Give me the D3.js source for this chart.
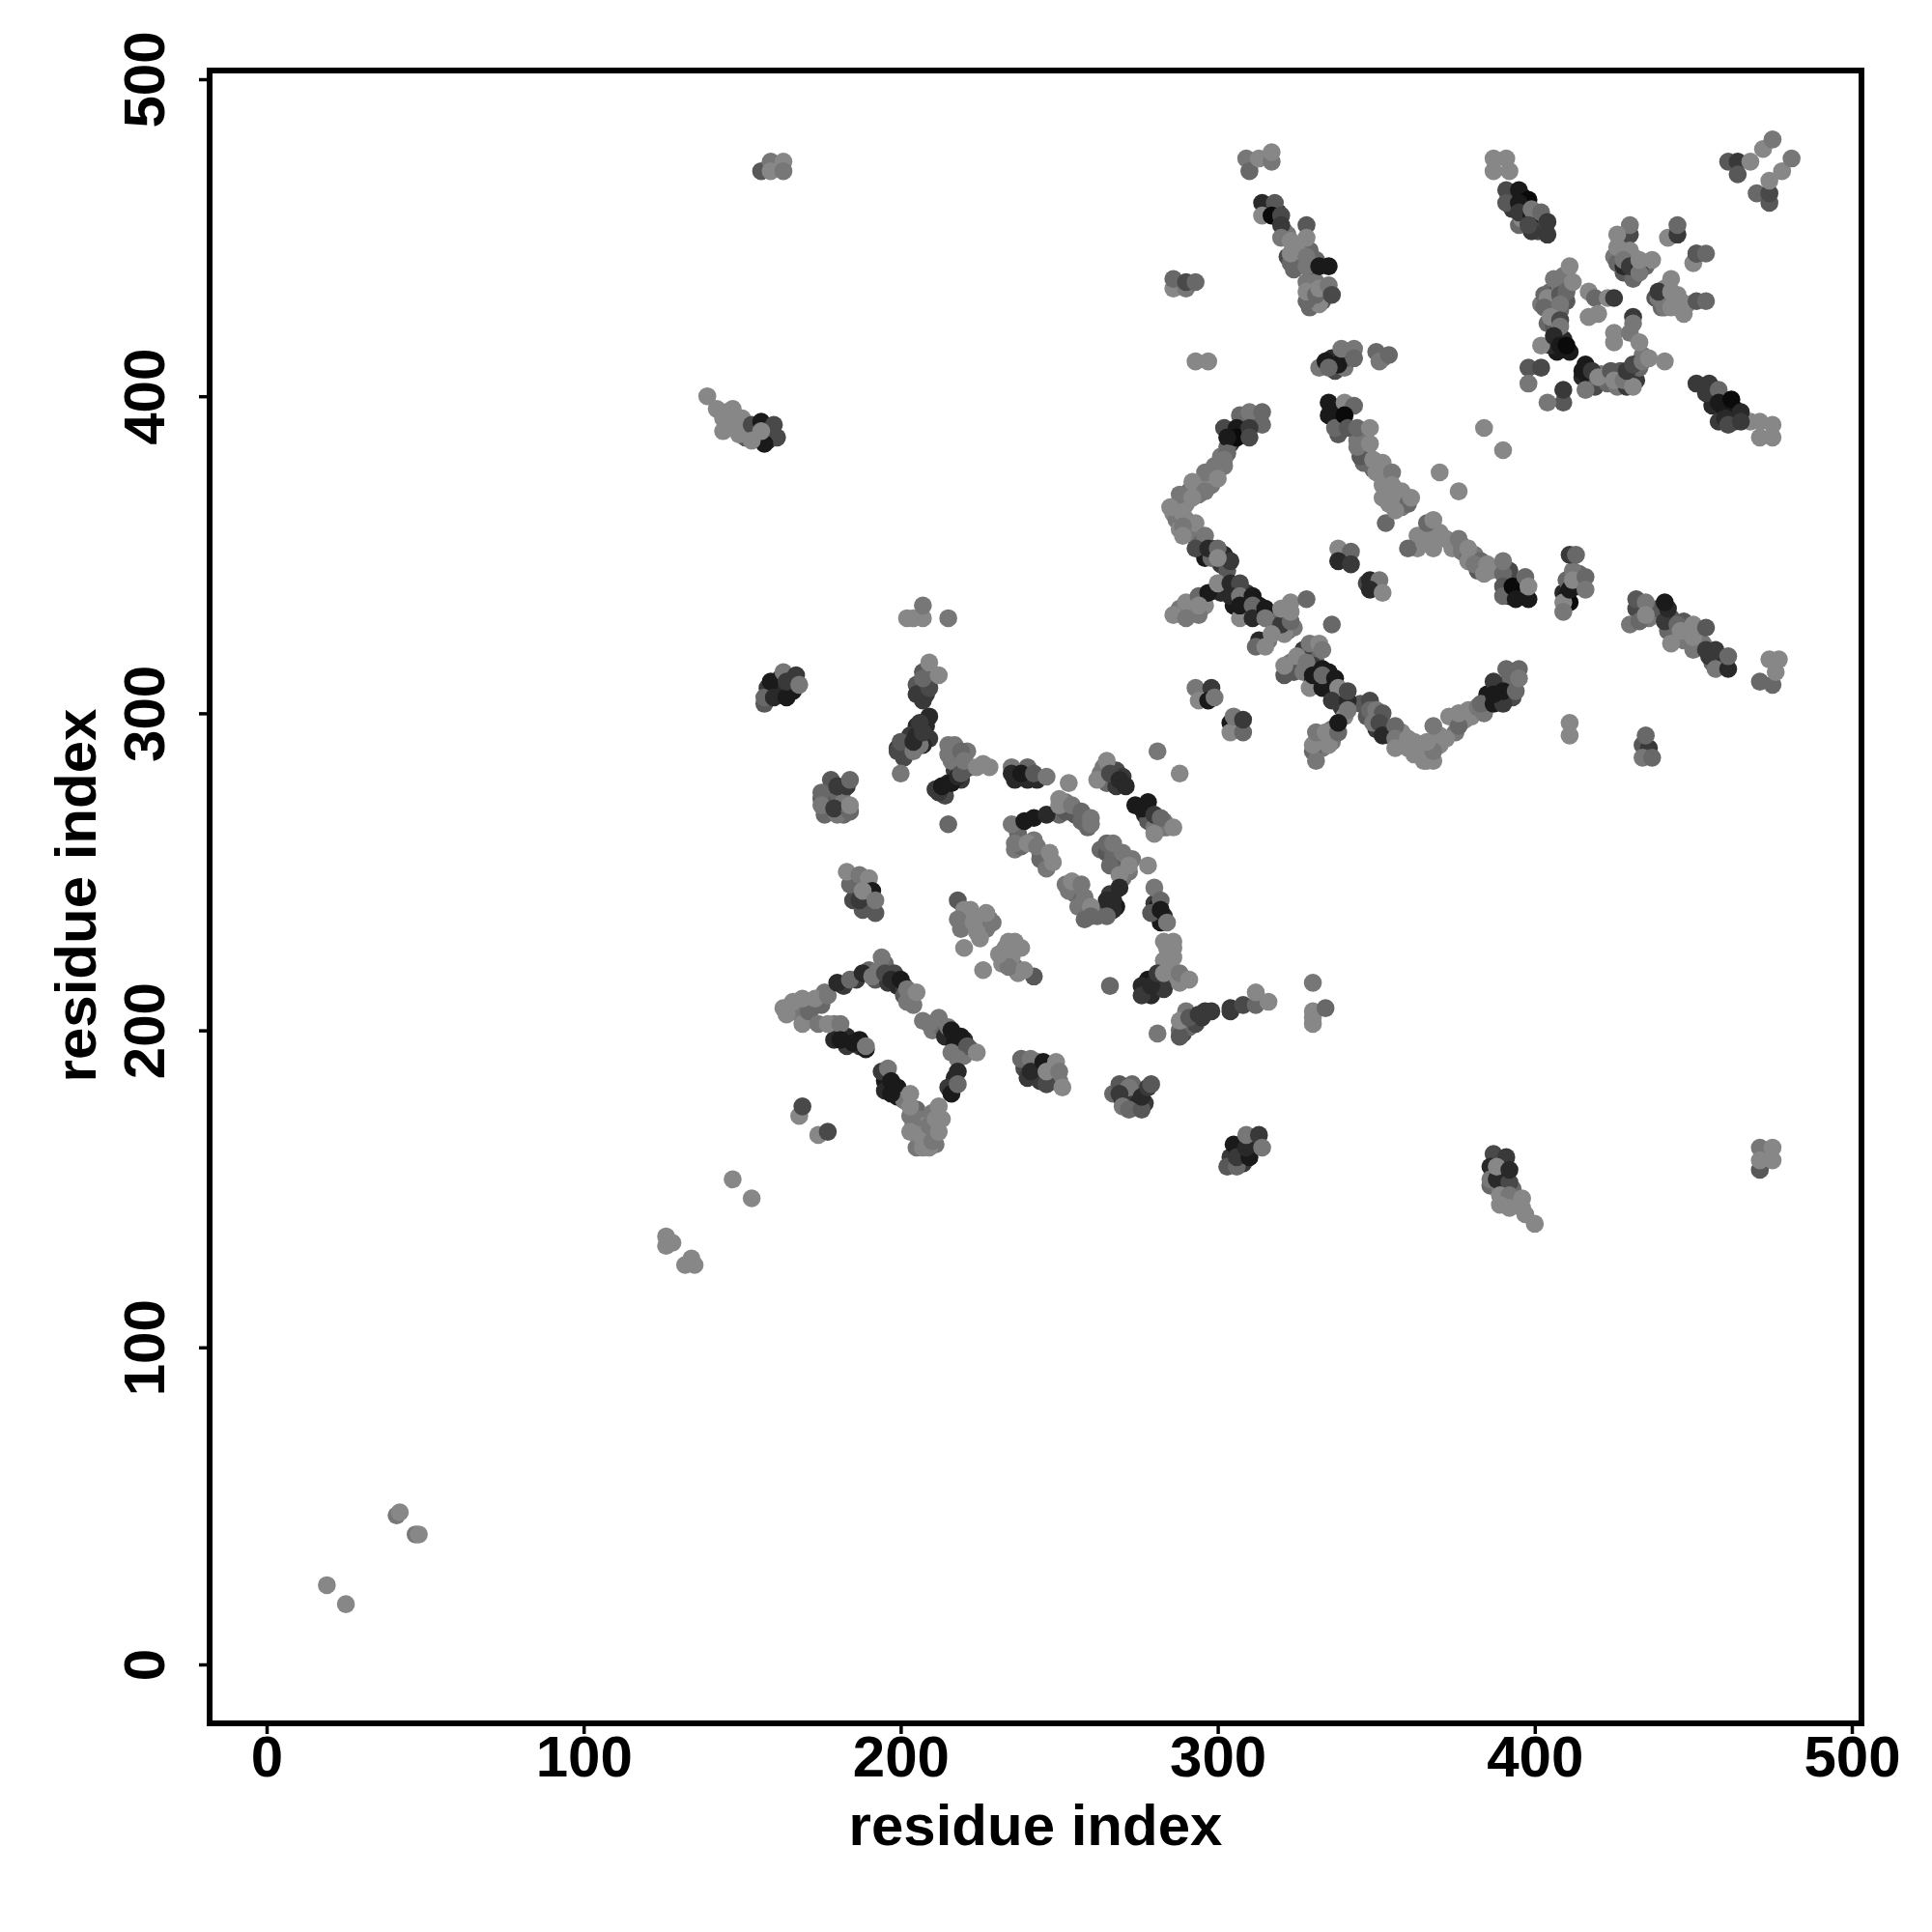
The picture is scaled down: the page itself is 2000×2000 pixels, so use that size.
<!DOCTYPE html>
<html><head><meta charset="utf-8">
<script src="https://cdn.jsdelivr.net/npm/d3@7"></script>
<style>html,body{margin:0;background:#fff}svg{display:block}text{font-family:"Liberation Sans",Arial,sans-serif;font-weight:700;fill:#000}</style>
</head><body><svg id="c" width="2000" height="2000"></svg>
<script>
// each contact: [residue i, residue j, shade level 0 (darkest) .. 8 (lightest)]
// under-layer contacts, drawn first
const underLoop=[[166,206,7],[168,207,7],[172,207,7],[175,208,6],[164,205,8],[170,204,7],[176,212,7],[182,214,3],[186,216,3],[190,219,6],[192,216,5],[195,221,6],[196,215,3],[198,218,4],[199,214,2],[201,214,3],[203,211,7],[204,208,7],[201,211,5],[179,202,7],[183,198,2],[187,195,3],[183,195,3],[179,197,2],[187,197,1],[207,203,7],[210,200,7],[213,201,6],[214,198,2],[217,196,1],[220,197,2],[222,194,6],[216,193,7],[220,192,7],[217,185,2],[215,182,3],[195,184,1],[199,182,1],[195,181,2],[199,179,1],[201,178,7],[205,175,6],[206,172,7],[208,170,8],[206,165,7],[208,166,7],[204,170,7],[213,172,8],[210,174,7],[205,163,7],[211,164,7]];
const underStem=[[205,309,5],[208,310,5],[209,313,6],[207,313,5],[205,306,3],[208,306,3],[209,299,2],[205,296,2],[208,296,2],[209,292,3],[203,293,3],[207,290,2],[205,293,2],[202,289,5],[199,289,3],[206,290,7],[201,286,4],[215,278,2],[214,274,4],[212,275,3],[217,282,3],[218,283,4],[220,282,5],[218,287,7],[221,288,7],[222,283,7],[215,287,7],[216,285,7],[219,279,3],[221,283,4]];
const underBlobs=[[178,274,2],[182,276,4],[176,268,6],[178,272,6],[182,272,7],[182,268,6],[183,277,3],[175,273,5],[178,279,5],[186,247,7],[186,243,2],[189,240,3],[185,241,4],[189,246,7],[191,240,5],[188,238,5],[221,235,8],[222,238,8],[219,232,7],[225,234,8],[226,232,8],[228,235,6],[227,232,7],[225,229,8],[232,224,7],[233,226,8],[236,228,8],[235,224,8],[232,221,8],[236,220,6],[237,218,8],[235,223,8],[239,188,4],[243,189,2],[243,186,1],[240,185,3],[244,184,3],[248,186,7],[248,184,5],[250,184,7],[243,190,6],[247,189,8],[271,179,5],[274,179,7],[274,176,5],[267,180,6],[273,183,6],[270,178,2],[272,177,3],[275,177,2],[277,177,3]];
const underUpper=[[236,279,2],[240,279,2],[243,279,2],[240,283,6],[263,281,7],[264,283,7],[265,278,6],[268,282,4],[268,277,3],[270,280,3],[277,268,2],[278,266,5],[280,264,7],[283,264,6],[283,266,7],[278,272,1],[284,264,7],[274,271,1],[237,262,6],[236,257,7],[238,258,6],[242,260,7],[244,256,7],[246,254,7],[244,254,6],[246,251,7],[250,268,6],[252,272,7],[255,268,5],[257,266,6],[259,264,6],[260,265,7],[250,273,8],[252,269,5],[263,257,6],[265,256,5],[267,255,6],[268,253,6],[270,253,5],[272,250,7],[269,252,5],[273,254,7],[266,252,6],[270,248,7],[266,243,3],[268,239,1],[264,238,3],[265,241,2],[252,246,7],[255,243,6],[253,244,7],[257,241,6],[259,238,7],[262,236,6],[256,239,7],[258,235,6],[280,240,3],[281,239,1],[283,236,2],[282,234,1],[279,237,5]];
const underCross=[[286,226,8],[286,223,8],[283,222,8],[283,228,8],[286,228,8],[285,220,8],[285,217,8],[277,212,2],[278,216,1],[280,213,1],[276,214,2],[282,215,3],[279,211,2],[283,213,3],[288,215,8],[289,199,4],[291,201,6],[290,206,7],[293,202,4],[295,204,3],[296,206,3],[288,200,6]];
const underMid=[[292,332,7],[288,333,7],[296,334,8],[301,338,2],[305,339,1],[305,334,1],[309,338,3],[309,335,2],[309,332,1],[313,334,1],[313,331,3],[316,331,2],[318,327,2],[320,331,7],[322,326,4],[324,327,7],[321,325,8],[316,323,7],[313,323,2],[323,335,8],[318,330,6],[329,318,7],[331,319,6],[331,316,6],[327,317,5],[330,315,3],[326,315,6],[323,316,7],[324,313,5],[327,313,7],[330,310,1],[332,310,2],[335,309,1],[335,313,1],[337,306,2],[339,302,3],[338,305,4],[339,307,7],[340,299,8],[333,292,8],[336,291,7],[336,295,7],[333,289,7],[330,288,6]];
const underValley=[[353,296,7],[358,294,8],[362,291,8],[362,287,8],[364,288,8],[368,285,8],[370,290,8],[370,293,8],[375,294,7],[378,298,8],[380,299,8],[384,300,7],[385,304,3],[347,299,5],[345,303,5],[350,295,3],[354,293,7],[358,290,8],[385,306,1],[388,308,1],[389,304,1],[392,308,3],[392,311,6],[393,305,4],[389,305,1]];
const underArc=[[304,385,3],[307,389,1],[308,392,2],[311,392,4],[303,384,6],[302,378,7],[299,378,7],[301,381,7],[298,375,7],[298,372,7],[295,372,8],[294,369,7],[291,370,6],[288,366,7],[290,366,8],[286,363,8],[287,361,7],[290,361,7],[288,358,8],[291,357,7],[295,354,6],[298,352,3],[302,350,2],[296,349,1],[301,347,3],[298,349,6],[303,345,5]];
const underDescent=[[337,396,1],[339,391,2],[338,388,5],[346,387,7],[344,386,7],[346,383,6],[347,382,7],[346,379,6],[349,377,6],[352,375,8],[353,374,8],[352,372,8],[354,369,8],[357,367,8],[354,366,8],[358,370,8],[358,365,7],[356,368,8],[363,356,8],[366,356,8],[369,355,8],[370,357,8],[363,352,8],[374,352,8],[377,351,7],[379,349,6],[381,350,7],[382,345,5],[379,348,8],[383,348,6],[386,345,8],[377,353,7]];
const underHigh=[[316,459,1],[319,458,2],[321,452,5],[322,451,7],[324,447,6],[326,443,4],[326,447,8],[329,446,6],[331,443,6],[324,440,6],[322,444,4],[325,441,6],[330,439,5],[328,436,7],[331,436,7],[333,430,5],[329,428,6],[332,429,8],[393,462,1],[396,463,0],[397,459,1],[393,459,3],[397,455,3],[400,456,0],[400,454,2],[402,455,3],[395,454,6],[401,452,4],[399,452,3],[396,456,8],[336,412,2],[337,408,4],[340,409,7],[341,414,7],[340,412,5],[352,412,7]];
const underXShape=[[428,449,7],[425,444,7],[426,442,6],[428,439,5],[431,437,6],[428,441,2],[431,444,8],[435,441,6],[438,431,5],[440,428,6],[441,434,8],[445,428,8],[445,432,8],[440,431,6],[441,428,7],[443,431,7],[448,429,8],[405,433,6],[406,430,5],[407,433,4],[405,428,4],[408,434,7],[410,430,5],[402,429,7],[403,432,6],[404,423,6],[407,419,3],[407,414,1],[409,418,2],[411,414,1],[405,416,2],[406,422,5],[408,427,6],[406,437,7],[409,438,7],[415,406,2],[417,406,1],[419,403,4],[421,407,7],[423,404,6],[426,403,7],[429,406,4],[427,408,5],[431,407,2],[432,405,3],[433,409,6],[429,403,3],[427,406,6],[434,413,7],[456,402,5],[457,400,3],[456,397,2],[460,395,1],[460,398,1],[463,396,1],[463,392,3],[458,392,3],[460,393,2],[468,392,8]];
const underRight=[[432,333,4],[436,330,7],[439,333,5],[443,330,5],[445,325,7],[447,323,7],[447,329,5],[442,326,6],[453,322,7],[448,326,8],[456,316,6],[459,315,1],[458,318,2],[455,318,3],[392,337,1],[396,337,1],[393,342,4],[395,339,7],[392,345,4],[409,338,2],[410,342,6],[413,340,2],[414,344,6],[410,337,1],[412,345,7],[340,349,2],[349,340,3],[350,340,2]];
const underLow=[[388,159,3],[390,155,1],[387,155,1],[390,151,2],[390,158,2],[386,151,6],[389,150,7],[391,150,5],[393,150,6],[394,145,8],[391,146,8],[396,144,8],[150,390,8],[146,391,7],[151,387,5],[155,387,2],[159,389,2],[158,386,2],[150,393,8],[145,395,8],[162,307,2],[162,311,3],[166,307,1],[158,308,3],[165,309,3],[307,162,1],[308,158,3],[304,160,3],[312,165,3]];

const nearDiagonal=[[19,25,8],[25,19,8],[41,47,7],[42,48,8],[47,41,7],[48,41,8],[147,153,8],[153,147,8],[126,135,8],[126,132,8],[128,133,8],[134,128,8],[132,126,8],[135,126,8]];
const topLeftA=[[156,471,5],[159,474,7],[163,474,8],[159,471,8],[163,471,7]];
const topLeftB=[[139,400,8],[142,396,8],[147,396,8],[144,393,8],[144,389,8],[148,392,8],[149,388,8],[153,391,4],[156,392,1],[160,391,4],[161,387,4],[157,385,1],[153,386,8],[156,389,8]];
const band300A=[[157,303,5],[157,305,6],[159,310,1],[160,305,2],[163,313,7],[164,305,1],[164,310,3],[167,312,3],[168,309,7]];
const band330=[[202,330,8],[204,330,8],[207,330,8],[207,334,7],[215,330,7]];
const stem=[[207,304,3],[207,307,3],[209,308,4],[207,311,6],[212,312,8],[209,316,8],[199,288,4],[200,291,5],[204,288,7],[204,291,2],[207,294,3],[206,297,3],[200,281,7],[215,265,6]];
const arm280=[[211,276,3],[213,277,1],[216,278,1],[218,280,2],[219,281,5],[215,290,7],[217,290,7],[219,288,6],[220,285,7],[224,283,8],[226,284,8],[228,283,8]];
const blob275=[[175,275,6],[175,271,7],[180,268,7],[179,270,3],[180,277,3],[184,269,6],[184,279,6],[184,271,8]];
const blob245=[[184,246,6],[183,250,8],[187,249,7],[190,248,8],[187,241,3],[191,244,1],[188,244,8],[192,237,5],[192,241,7]];
const diag230=[[218,241,5],[220,238,8],[218,235,7],[229,234,7],[227,237,8],[223,234,8],[224,231,8],[220,226,8],[226,219,8],[234,220,7],[231,224,8],[234,228,8],[238,226,8],[242,217,5],[239,219,8]];
const loopTop=[[163,207,8],[166,209,8],[169,202,8],[171,206,6],[169,210,8],[173,210,8],[177,211,7],[180,215,2],[184,216,6],[188,218,2],[191,217,7],[194,223,7],[193,219,7],[195,218,4],[197,216,2],[200,216,1],[202,209,7],[202,213,7],[205,212,8]];
const loopBottom=[[174,202,7],[177,202,8],[181,202,7],[181,197,1],[185,196,1],[189,194,1],[189,195,7]];
const loopRight=[[209,202,7],[212,204,7],[215,201,7],[216,200,1],[219,198,1],[221,195,5],[218,191,7],[224,193,8],[218,187,2],[216,180,1],[218,183,6]];
const loopFoot=[[194,187,3],[196,188,7],[197,184,1],[197,180,1],[203,173,7],[203,176,8],[203,180,8],[203,168,8],[206,167,8],[207,163,8],[209,163,8],[210,165,7],[209,170,7],[211,172,8],[212,176,8],[212,168,8]];
const pairs170=[[168,173,8],[169,176,4],[174,167,8],[177,168,4]];
const blob187=[[238,191,6],[241,191,7],[241,187,2],[245,190,1],[246,183,4],[246,187,8],[249,190,8],[250,187,7],[251,182,8]];
const blob180=[[269,183,5],[272,182,7],[269,180,3],[270,176,7],[272,175,6],[276,175,5],[276,179,2],[278,182,3],[279,183,5]];
const upper280=[[235,283,7],[235,281,2],[238,281,1],[242,281,5],[246,280,7],[253,278,8],[262,279,8],[265,285,8],[266,281,4],[269,279,2],[271,277,2],[281,288,7],[288,281,8]];
const upper265=[[276,270,1],[280,268,3],[282,267,6],[280,262,8],[286,264,8],[235,265,7],[239,266,1],[242,267,1],[246,268,2],[250,271,8],[254,271,7],[257,269,6],[260,267,7]];
const upper255=[[236,259,7],[240,259,8],[243,258,7],[247,256,8],[248,253,8],[265,259,6],[267,259,7],[270,256,7],[269,249,8],[272,252,8],[278,252,8],[269,245,2],[267,241,2],[267,238,2],[265,236,6]];
const upper245=[[254,247,8],[257,246,7],[258,242,7],[260,239,8],[260,236,6],[280,245,7],[282,241,6],[282,238,1],[284,234,7]];
const cross220=[[284,226,8],[284,223,8],[276,211,3],[279,214,2],[281,218,3],[283,218,8],[288,218,7],[291,216,8],[266,214,6],[281,199,7],[288,198,5],[288,203,8],[291,204,5],[294,205,3],[298,206,3],[304,206,3],[304,207,3],[308,208,4],[312,208,6],[312,212,8],[316,209,8]];
const right205=[[330,215,7],[330,202,8],[330,204,8],[330,206,8],[334,207,6]];
const low160=[[303,157,5],[306,157,6],[305,164,1],[306,160,3],[310,160,1],[309,163,2],[309,167,7],[313,167,3],[314,163,7]];
const low150=[[387,161,4],[391,160,3],[386,157,2],[386,153,7],[388,153,2],[388,157,8],[392,152,4],[392,156,2],[389,148,8],[392,148,7],[396,147,8],[389,145,8],[392,144,8],[397,142,8],[400,139,8]];
const low160r=[[471,156,5],[471,163,7],[475,163,8],[471,159,8],[475,159,8]];
const mid335=[[286,331,8],[290,335,8],[290,330,7],[294,331,7],[294,337,6],[297,338,1],[294,334,8],[300,341,8],[304,341,2],[307,341,4],[304,337,2],[307,337,7],[311,337,1],[307,330,8],[307,334,1],[311,334,6],[311,330,2],[315,333,1],[315,330,7],[320,328,3],[323,329,6],[320,333,8],[323,332,8],[317,325,8],[312,321,6],[315,321,8],[328,336,6],[336,328,6]];
const mid315=[[327,320,3],[329,322,7],[332,322,8],[333,320,7],[325,318,8],[321,312,5],[321,315,8],[328,316,7],[329,308,8],[330,312,1],[333,314,1],[333,308,1],[333,312,6],[337,311,1],[338,308,8],[336,304,3],[341,304,2],[341,301,7],[341,307,4]];
const mid295=[[331,285,7],[330,290,8],[335,290,8],[331,294,7],[334,294,8],[338,294,6],[338,297,1]];
const valley=[[348,304,4],[348,301,6],[350,301,7],[352,300,5],[349,297,7],[351,297,4],[352,293,2],[356,296,6],[356,292,7],[356,289,8],[360,292,8],[360,289,8],[365,285,8],[366,285,8],[368,288,7],[366,291,8],[372,292,8],[368,296,7],[373,299,8],[376,296,6],[376,300,8],[379,301,8],[382,302,7],[383,303,6]];
const valleyEnd=[[387,303,1],[390,303,3],[387,310,3],[387,306,1],[390,307,1],[394,307,6],[391,314,6],[395,314,6],[395,311,7]];
const small300=[[293,308,7],[294,304,8],[298,308,3],[297,304,1],[299,305,7],[304,297,1],[304,294,8],[305,299,7],[308,294,6],[308,298,3]];
const right295=[[411,297,8],[411,293,8]];
const right340=[[390,344,6],[390,340,5],[390,337,6],[393,340,0],[394,336,1],[398,336,1],[397,343,6],[398,340,8],[411,350,3],[413,350,6],[411,335,0],[409,335,8],[409,332,7],[411,339,1],[412,342,8],[416,343,6],[416,339,7]];
const high475=[[309,475,7],[310,471,6],[313,475,8],[317,474,7],[317,477,8]];
const high455=[[314,461,2],[318,461,5],[314,457,8],[317,457,0],[320,457,4],[320,454,3],[320,450,7],[323,449,8],[328,454,5],[328,450,8],[323,442,6],[323,445,8],[325,446,8],[328,441,7],[328,444,7],[332,441,1],[335,441,1]];
const high432=[[328,430,6],[328,433,8],[331,432,6],[332,434,8],[335,435,7],[336,432,4]];
const high435=[[286,434,8],[286,437,6],[290,434,7],[290,436,4],[293,436,6]];
const high410=[[293,411,8],[297,411,8],[332,409,7],[334,411,1],[338,410,1],[335,409,6],[339,415,7],[343,415,7],[343,412,6],[350,414,6],[351,411,7],[354,413,6]];
const descent=[[335,398,1],[335,394,1],[337,390,6],[340,398,8],[343,397,6],[340,394,0],[341,390,5],[344,390,6],[348,390,8],[345,381,5],[344,384,7],[348,385,8],[349,380,8],[352,379,8],[350,376,8],[355,376,7],[353,360,6],[360,366,6],[355,372,8],[352,368,8],[361,368,8],[356,364,8]];
const far=[[370,376,8],[376,370,8],[384,390,8],[390,383,8]];
const tail=[[360,352,6],[366,360,6],[368,361,8],[365,354,8],[368,352,8],[372,355,8],[376,355,7],[379,352,8],[381,347,7],[384,344,8],[385,347,8],[390,348,7]];
const arc=[[302,390,4],[307,394,6],[310,395,7],[314,395,6],[314,391,6],[306,390,1],[306,387,0],[303,387,1],[310,390,3],[310,387,4],[303,382,6],[302,380,7],[300,376,7],[296,376,7],[300,374,8],[292,373,8],[296,370,7],[288,369,7],[292,368,8],[285,365,8],[289,363,8],[293,360,8],[289,359,7],[289,356,8],[296,356,7],[293,352,4],[297,352,2],[300,352,6],[304,348,3],[300,349,8]];
const pair350=[[338,352,8],[342,351,6],[338,348,2],[342,347,3],[347,341,4],[348,342,2],[351,342,7],[348,339,2],[352,338,8]];
const top470=[[387,475,8],[391,475,8],[387,471,8],[392,471,8],[391,465,4],[395,465,1],[391,461,5],[398,462,0],[395,461,1],[395,458,3],[399,457,1],[399,459,7],[398,454,4],[402,458,6],[404,451,3],[404,455,3]];
const corner=[[461,474,5],[464,474,3],[464,470,5],[468,474,8],[472,478,8],[475,481,7],[470,464,6],[474,461,5],[474,464,4],[474,468,8],[478,471,8],[481,475,7]];
const crossNE=[[430,451,4],[430,454,7],[426,451,8],[426,447,8],[430,446,8],[428,443,7],[430,441,3],[433,440,2],[433,439,7],[433,443,8],[437,443,8],[442,450,8],[445,451,3],[445,454,6],[450,442,8],[451,445,3],[451,445,5],[454,445,6],[439,431,7],[439,433,3],[443,437,8],[443,433,8],[446,430,8],[443,428,8],[447,426,8],[451,430,5],[454,430,6]];
const crossW=[[411,441,8],[404,431,8],[403,428,6],[408,432,5],[410,433,6],[412,436,8],[408,429,7],[405,425,8],[408,424,4],[408,422,7],[402,416,8],[406,419,2],[408,416,1],[410,416,0],[417,433,8],[419,431,6],[423,431,8],[425,431,3],[417,425,8],[420,426,8],[431,425,3],[431,423,7],[425,420,8],[425,417,8],[430,420,7],[433,417,8]];
const crossS=[[398,409,5],[402,409,4],[398,404,7],[409,398,5],[404,398,7],[409,402,3],[416,402,7],[415,408,1],[416,410,1],[418,408,3],[420,406,8],[424,408,5],[425,405,8],[428,405,7],[431,403,8],[429,408,3],[431,410,4],[434,411,7],[436,412,8],[441,411,8]];
const crossSE=[[451,404,3],[455,404,3],[454,401,3],[458,402,6],[458,398,1],[462,399,0],[461,391,4],[465,395,2],[465,392,3],[471,392,8],[475,391,8],[471,387,8],[475,387,8]];
const right330=[[430,328,7],[433,329,6],[432,336,5],[435,335,7],[435,331,8],[441,329,3],[442,333,2],[441,335,1],[445,328,6],[443,322,8],[446,326,8],[450,320,7],[450,324,8],[450,328,8],[454,327,5],[454,320,3],[457,320,3],[457,314,7],[461,314,2],[461,318,6]];
const right315=[[471,310,6],[475,309,6],[474,317,8],[477,317,8],[476,313,8],[434,290,5],[436,289,3],[434,286,7],[437,286,6],[435,293,6]];

const clusters=[underLoop,underStem,underBlobs,underUpper,underCross,underMid,underValley,underArc,underDescent,underHigh,underXShape,underRight,underLow,nearDiagonal,topLeftA,topLeftB,band300A,band330,stem,arm280,blob275,blob245,diag230,loopTop,loopBottom,loopRight,loopFoot,pairs170,blob187,blob180,upper280,upper265,upper255,upper245,cross220,right205,low160,low150,low160r,mid335,mid315,mid295,valley,valleyEnd,small300,right295,right340,high475,high455,high432,high435,high410,descent,far,tail,arc,pair350,top470,corner,crossNE,crossW,crossS,crossSE,right330,right315];
const tickValues=[0,100,200,300,400,500];
const axisTitle="residue index";

const svg=d3.select("#c");
const x=d3.scaleLinear().domain([0,500]).range([276,1917]);
const y=d3.scaleLinear().domain([0,500]).range([1723,82]);
const gray=d3.scaleLinear().domain([0,8]).range(["#0a0a0a","#878787"]);
const frame={l:217,r:1927,t:73,b:1784};

svg.append("g").selectAll("circle").data(clusters.flat()).join("circle")
  .attr("cx",d=>x(d[0])).attr("cy",d=>y(d[1])).attr("r",9.3).attr("fill",d=>gray(d[2]));

svg.append("rect").attr("x",frame.l).attr("y",frame.t).attr("width",frame.r-frame.l).attr("height",frame.b-frame.t)
  .attr("fill","none").attr("stroke","#000").attr("stroke-width",6);

const gx=svg.append("g").attr("transform",`translate(0,${frame.b})`).call(d3.axisBottom(x).tickValues(tickValues).tickSize(11).tickPadding(8));
const gy=svg.append("g").attr("transform",`translate(${frame.l},0)`).call(d3.axisLeft(y).tickValues(tickValues).tickSize(11));
gx.select(".domain").remove();gy.select(".domain").remove();
gx.selectAll("line").attr("stroke","#000").attr("stroke-width",3.5);
gy.selectAll("line").attr("stroke","#000").attr("stroke-width",3.5);
gx.selectAll("text").attr("font-size",60).attr("font-family",null).attr("dy",null).attr("y",55);
gy.selectAll("text").attr("font-size",60).attr("x",null).attr("dy",null).attr("text-anchor","middle")
  .attr("transform",`translate(-47,0) rotate(-90)`).attr("y",0);

svg.append("text").attr("x",1072).attr("y",1910).attr("text-anchor","middle").attr("font-size",60).text(axisTitle);
svg.append("text").attr("transform","translate(99,927) rotate(-90)").attr("text-anchor","middle").attr("font-size",60).text(axisTitle);
</script></body></html>
